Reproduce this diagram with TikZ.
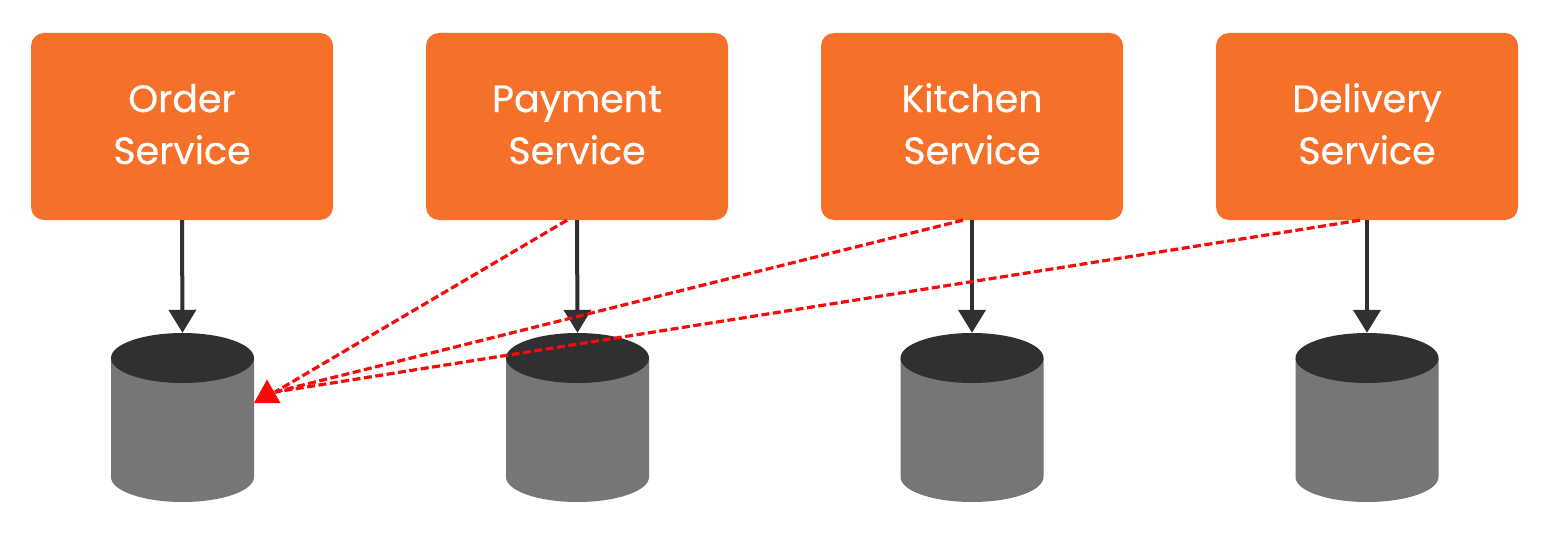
\documentclass[tikz,border=0pt]{standalone}
\usepackage{fontspec}
\setmainfont[FakeBold=0.5]{Poppins}
\definecolor{svc}{HTML}{F57029}
\definecolor{dark}{HTML}{303032}
\definecolor{body}{HTML}{757675}
\definecolor{redl}{HTML}{F70A0A}
\usetikzlibrary{arrows.meta}
\newcommand{\toprow}{\rule{0pt}{40pt}}
\newcommand{\botrow}{\rule[-17pt]{0pt}{17pt}}
\tikzset{
  x=1pt,y=-1pt,
  service/.style={rectangle,rounded corners=13pt,fill=svc,text=white,minimum width=302pt,minimum height=187pt,inner sep=0pt,align=center,font=\fontsize{38}{52}\selectfont},
  dbnode/.style={rectangle,minimum width=143pt,minimum height=169pt,inner sep=0pt},
  store/.style={-{Triangle[length=23pt,width=27pt]},line width=4pt,draw=dark,shorten >=0pt},
  shared/.style={draw=redl,line width=3.2pt,dash pattern=on 8pt off 3.5pt}
}
\begin{document}
\begin{tikzpicture}
\useasboundingbox (0,0) rectangle (1549,535);
\fill[white] (0,0) rectangle (1549,535);
\node[service] (s1) at (182,126.5) {\toprow Order\\Service\botrow};
\node[service] (s2) at (577,126.5) {\toprow Payment\\Service\botrow};
\node[service] (s3) at (972,126.5) {\toprow Kitchen\\Service\botrow};
\node[service] (s4) at (1367,126.5) {\toprow Delivery\\Service\botrow};
\foreach \i/\cx in {1/182.5,2/577.5,3/972,4/1367}{
  \node[dbnode] (d\i) at (\cx,417.5) {};
  \fill[body] (\cx-71.5,358) -- (\cx-71.5,477) arc[start angle=180,end angle=360,x radius=71.5,y radius=-25] -- (\cx+71.5,358) -- cycle;
  \fill[dark] (\cx,358) ellipse[x radius=71.5,y radius=25];
}
\foreach \i in {1,2,3,4}{
  \draw[store] (s\i.south) -- (d\i.north);
}
\coordinate (tip) at (275,392);
\draw[shared] ([xshift=-10pt]s2.south) -- (tip);
\draw[shared] ([xshift=-9pt]s3.south) -- (tip);
\draw[shared] ([xshift=-7pt]s4.south) -- (tip);
\fill[redl] (254,403) -- (280.5,403) -- (267,379.5) -- cycle;
\end{tikzpicture}
\end{document}
